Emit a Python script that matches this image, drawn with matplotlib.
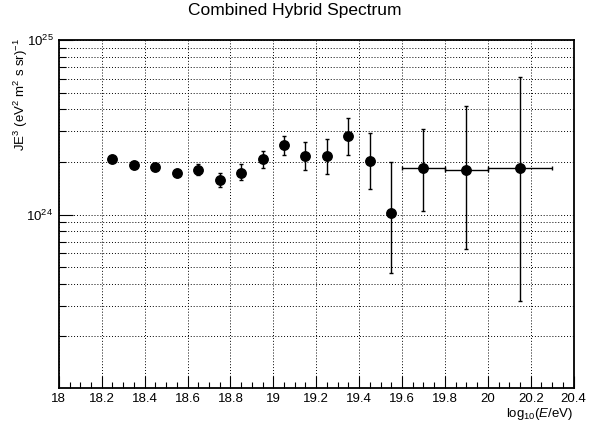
import numpy as np
import matplotlib
matplotlib.use("Agg")
import matplotlib.pyplot as plt
from matplotlib.ticker import MultipleLocator, LogLocator, NullFormatter, FuncFormatter, LogFormatterMathtext

# =====================================================
# Style (ROOT-like)
# =====================================================

plt.rcParams.update({
    'font.family': ['Liberation Sans', 'DejaVu Sans'],
    'font.size': 9.5,
    'mathtext.fontset': 'custom',
    'mathtext.rm': 'Liberation Sans',
    'mathtext.it': 'Liberation Sans:italic',
    'mathtext.default': 'regular',
    'axes.linewidth': 1.3,
    'xtick.direction': 'in',
    'ytick.direction': 'in',
})

# =====================================================
# Data
# =====================================================

lgE = [18.25, 18.35, 18.45, 18.55, 18.65, 18.75, 18.85, 18.95, 19.05,
       19.15, 19.25, 19.35, 19.45, 19.55, 19.70, 19.90, 20.15]
flux = [2.09, 1.93, 1.87, 1.73, 1.80, 1.57, 1.74, 2.07, 2.49,
        2.15, 2.15, 2.80, 2.03, 1.02, 1.85, 1.80, 1.85]   # x 1e24
flux_hi = [2.17, 2.01, 1.95, 1.80, 1.94, 1.72, 1.94, 2.32, 2.83,
           2.59, 2.72, 3.58, 2.92, 2.01, 3.10, 4.17, 6.11]
flux_lo = [2.01, 1.86, 1.80, 1.66, 1.68, 1.44, 1.57, 1.85, 2.19,
           1.79, 1.70, 2.18, 1.40, 0.463, 1.05, 0.635, 0.321]
# wide bins at the highest energies
lgE_wide_lo = [19.60, 19.80, 20.00]
lgE_wide_hi = [19.80, 20.00, 20.30]

scale = 1e24
x = np.array(lgE)
y = np.array(flux) * scale
yerr = np.vstack([y - np.array(flux_lo) * scale, np.array(flux_hi) * scale - y])

n_narrow = len(lgE) - len(lgE_wide_lo)
xw = x[n_narrow:]
xerr = np.vstack([xw - np.array(lgE_wide_lo), np.array(lgE_wide_hi) - xw])

# =====================================================
# Plot
# =====================================================

fig = plt.figure(figsize=(5.96, 4.25), dpi=100)
ax = fig.add_axes([0.0987, 0.0864, 0.8637, 0.8195])

ekw = dict(fmt='o', color='black', ms=6.8, ecolor='black', elinewidth=1.0,
           capsize=1.6, capthick=1.0)

ax.errorbar(x[:n_narrow], y[:n_narrow], yerr=yerr[:, :n_narrow], **ekw)
ax.errorbar(xw, y[n_narrow:], yerr=yerr[:, n_narrow:], xerr=xerr, **ekw)

ax.set_yscale('log')
ax.set_xlim(18.0, 20.4)
ax.set_ylim(1.01e23, 1e25)

# ticks
ax.xaxis.set_major_locator(MultipleLocator(0.2))
ax.xaxis.set_minor_locator(MultipleLocator(0.05))
ax.xaxis.set_major_formatter(FuncFormatter(lambda v, p: f'{v:g}'))
ax.yaxis.set_major_locator(LogLocator(base=10))
ax.yaxis.set_minor_locator(LogLocator(base=10, subs=np.arange(2, 10)))
ax.yaxis.set_major_formatter(LogFormatterMathtext())
ax.yaxis.set_minor_formatter(NullFormatter())

ax.tick_params(axis='x', which='major', length=8.5, width=0.8, pad=3.5, top=False)
ax.tick_params(axis='x', which='minor', length=4.2, width=0.8, top=False)
ax.tick_params(axis='y', which='major', length=10, width=0.8, pad=4, right=False)
ax.tick_params(axis='y', which='minor', length=5, width=0.8, right=False)

# grid
gkw = dict(color='black', linestyle=(0, (1, 2)), linewidth=0.7)
ax.grid(True, axis='x', which='major', **gkw)
ax.grid(True, axis='y', which='both', **gkw)
ax.set_axisbelow(True)

# labels
ax.set_xlabel(r'log$_{10}$($\mathit{E}$/eV)', loc='right')
ax.xaxis.set_label_coords(1.0, -0.05)
ax.xaxis.label.set_va('top')

ax.set_ylabel(r'JE$^{3}$ (eV$^{2}$ m$^{2}$ s sr)$^{-1}$', loc='top')
ax.yaxis.set_label_coords(-0.056, 1.005)

fig.text(0.495, 0.993, 'Combined Hybrid Spectrum', ha='center', va='top',
         fontsize=12.5)

plt.savefig("out.png", dpi=100)
